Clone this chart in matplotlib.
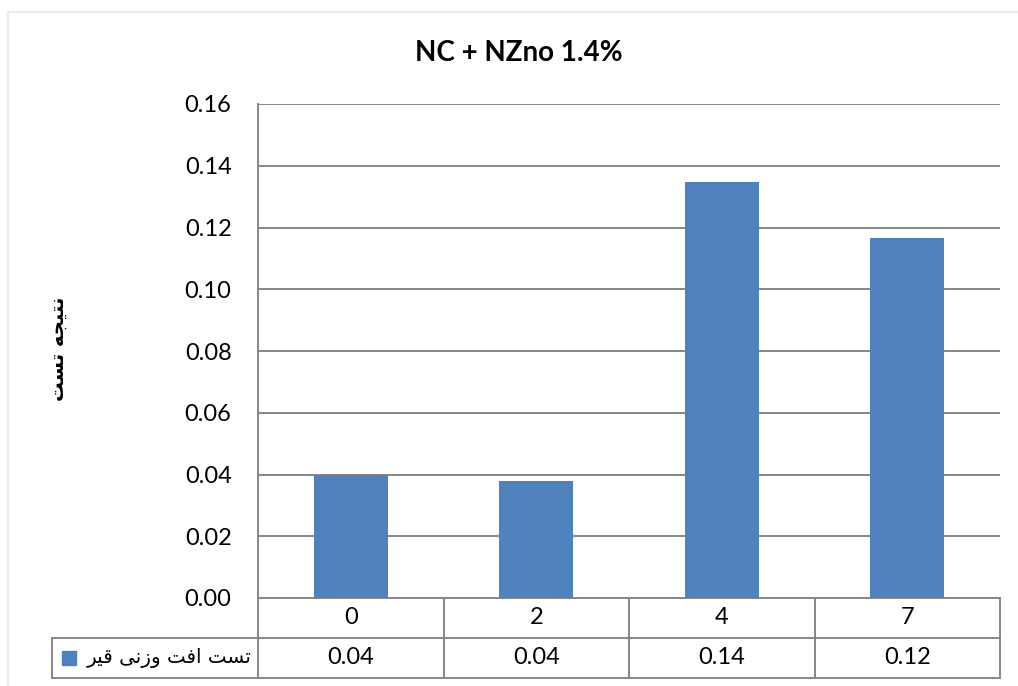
import matplotlib.pyplot as plt
from matplotlib.lines import Line2D
from matplotlib.patches import Rectangle

# Data
categories = ['0', '2', '4', '7']
values = [0.0397, 0.0378, 0.1348, 0.1167]
table_values = ['0.04', '0.04', '0.14', '0.12']
series_name = 'تست افت وزنی قیر'
y_label = 'نتیجه تست'
title = 'NC + NZno 1.4%'
yticks = [0.00, 0.02, 0.04, 0.06, 0.08, 0.10, 0.12, 0.14, 0.16]

# matplotlib has no Arabic shaping, so pick contextual forms by hand
# (isolated, final, initial, medial); None means the letter doesn't join forward
FORMS = {
    'ا': (0xFE8D, 0xFE8E, None, None),
    'ت': (0xFE95, 0xFE96, 0xFE97, 0xFE98),
    'س': (0xFEB1, 0xFEB2, 0xFEB3, 0xFEB4),
    'ف': (0xFED1, 0xFED2, 0xFED3, 0xFED4),
    'و': (0xFEED, 0xFEEE, None, None),
    'ز': (0xFEAF, 0xFEB0, None, None),
    'ن': (0xFEE5, 0xFEE6, 0xFEE7, 0xFEE8),
    'ی': (0xFBFC, 0xFBFD, 0xFBFE, 0xFBFF),
    'ق': (0xFED5, 0xFED6, 0xFED7, 0xFED8),
    'ر': (0xFEAD, 0xFEAE, None, None),
    'ج': (0xFE9D, 0xFE9E, 0xFE9F, 0xFEA0),
    'ه': (0xFEE9, 0xFEEA, 0xFEEB, 0xFEEC),
}


def shape(text):
    out = []
    for i, ch in enumerate(text):
        if ch not in FORMS:
            out.append(ch)
            continue
        prev = text[i - 1] if i > 0 else ' '
        nxt = text[i + 1] if i + 1 < len(text) else ' '
        joins_prev = prev in FORMS and FORMS[prev][2] is not None
        joins_next = nxt in FORMS and FORMS[ch][2] is not None
        iso, fin, ini, med = FORMS[ch]
        if joins_prev and joins_next:
            out.append(chr(med))
        elif joins_prev:
            out.append(chr(fin))
        elif joins_next:
            out.append(chr(ini))
        else:
            out.append(chr(iso))
    return ''.join(reversed(out))


plt.rcParams['font.family'] = ['Lato', 'DejaVu Sans']
grid_color = '#868686'
bar_color = '#4F81BD'

fig = plt.figure(figsize=(10.18, 6.86), dpi=100)
ax = fig.add_axes([258 / 1018, 1 - 598 / 686, 742 / 1018, 494 / 686])

x = range(len(categories))
ax.bar(x, values, width=0.4, color=bar_color, zorder=3)

ax.set_xlim(-0.5, len(categories) - 0.5)
ax.set_ylim(0, 0.16)
ax.set_yticks(yticks)
ax.set_yticklabels([f'{v:.2f}' for v in yticks])
ax.set_xticks([])
ax.tick_params(axis='y', length=0, pad=19, labelsize=17)
ax.yaxis.grid(True, color=grid_color, linewidth=1.4)
ax.set_axisbelow(True)
for side in ['top', 'right', 'bottom']:
    ax.spines[side].set_visible(False)
ax.spines['left'].set_color(grid_color)
ax.spines['left'].set_linewidth(1.4)

fig.text(519 / 1018, 1 - 53 / 686, title, ha='center', va='center',
         fontsize=20, fontweight='bold')
fig.text(58 / 1018, 1 - 349 / 686, shape(y_label), rotation=90, ha='center',
         va='center', fontsize=14, fontweight='bold',
         family=['DejaVu Sans'])

# Data table under the plot
row_h = 40 / 494
xt = ax.get_xaxis_transform()
tr = ax.transAxes
leg_left = (52 - 258) / 742
line_kw = dict(color=grid_color, linewidth=1.4, clip_on=False)

ax.add_line(Line2D([0, 1], [0, 0], transform=tr, **line_kw))
ax.add_line(Line2D([leg_left, 1], [-row_h, -row_h], transform=tr, **line_kw))
ax.add_line(Line2D([leg_left, 1], [-2 * row_h, -2 * row_h], transform=tr, **line_kw))
ax.add_line(Line2D([leg_left, leg_left], [-row_h, -2 * row_h], transform=tr, **line_kw))
for b in [i - 0.5 for i in range(len(categories) + 1)]:
    ax.add_line(Line2D([b, b], [0, -2 * row_h], transform=xt, **line_kw))

for i, (cat, val) in enumerate(zip(categories, table_values)):
    ax.text(i, -row_h / 2, cat, transform=xt, ha='center', va='center', fontsize=17)
    ax.text(i, -1.5 * row_h, val, transform=xt, ha='center', va='center', fontsize=17)

ax.add_patch(Rectangle(((62 - 258) / 742, -1.5 * row_h - 7 / 494), 14 / 742, 14 / 494,
                       transform=tr, color=bar_color, clip_on=False))
ax.text((252 - 258) / 742, -1.5 * row_h, shape(series_name), transform=tr,
        ha='right', va='center', fontsize=14.3, family=['DejaVu Sans'])

# Chart area border
fig.add_artist(Rectangle((8 / 1018, -0.1), 1.2, 1.1 - 12 / 686,
                         transform=fig.transFigure, fill=False,
                         edgecolor='#EEECE1', linewidth=1.5))

fig.savefig('out.png', dpi=100)
